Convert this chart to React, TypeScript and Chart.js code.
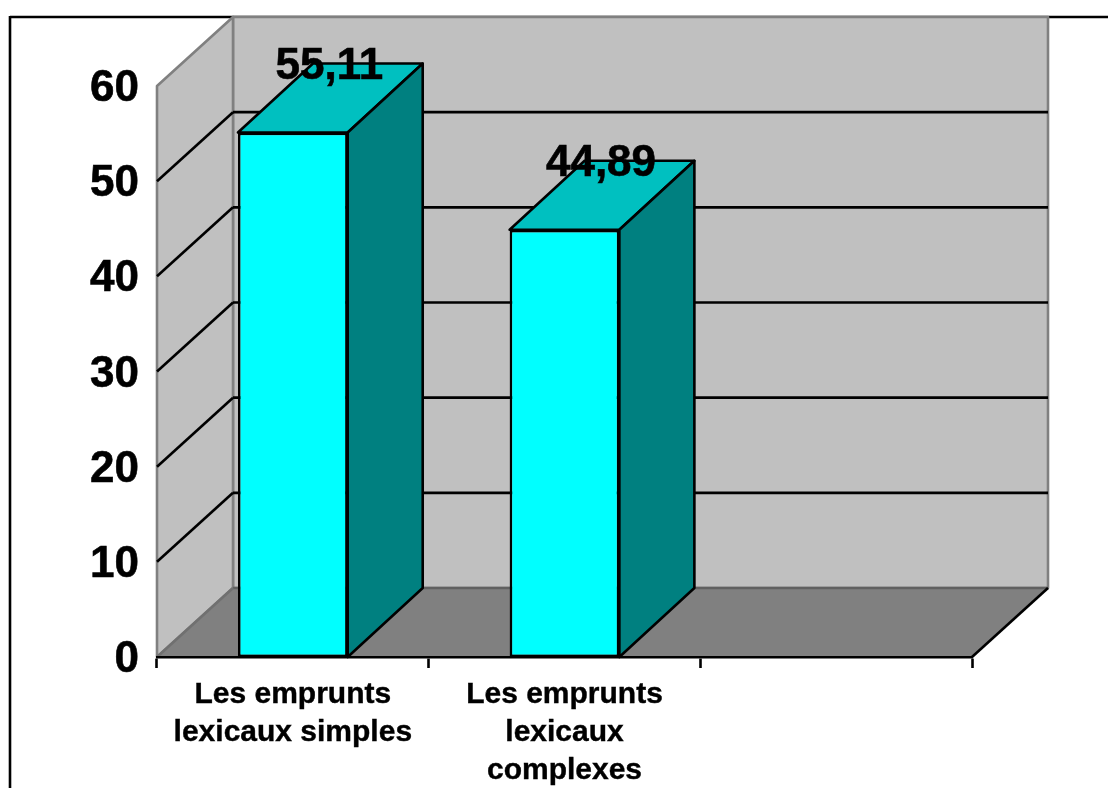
import React, { useEffect, useRef } from "react";
import { Chart, registerables } from "chart.js";

Chart.register(...registerables);

const categories: (string | string[])[] = [
  ["Les emprunts", "lexicaux simples"],
  ["Les emprunts", "lexicaux", "complexes"],
  "",
];
const shares: (number | null)[] = [55.11, 44.89, null];
const yTickStep = 10;
const yMax = 60;

const FONT = '"Liberation Sans", Arial, sans-serif';
const DEPTH_X = 76;
const DEPTH_Y = 69;
const BAR_DEPTH_X = 75;
const LINE = 2.6;

function polygon(ctx: CanvasRenderingContext2D, pts: number[][], fill: string | null, stroke: string | null, width = LINE) {
  ctx.beginPath();
  pts.forEach(([x, y], i) => (i ? ctx.lineTo(x, y) : ctx.moveTo(x, y)));
  ctx.closePath();
  if (fill) {
    ctx.fillStyle = fill;
    ctx.fill();
  }
  if (stroke) {
    ctx.strokeStyle = stroke;
    ctx.lineWidth = width;
    ctx.lineJoin = "round";
    ctx.stroke();
  }
}

function segment(ctx: CanvasRenderingContext2D, x1: number, y1: number, x2: number, y2: number, color: string, width = LINE) {
  ctx.beginPath();
  ctx.moveTo(x1, y1);
  ctx.lineTo(x2, y2);
  ctx.strokeStyle = color;
  ctx.lineWidth = width;
  ctx.stroke();
}

// Frame, the two walls, the floor and the value grid of the 3D box.
const box3d = {
  id: "box3d",
  beforeDraw(chart: any) {
    const { ctx, chartArea: a, scales } = chart;
    const dx = DEPTH_X;
    const dy = DEPTH_Y;
    ctx.save();

    segment(ctx, 10, 17, chart.width, 17, "#000");
    segment(ctx, 10, 16, 10, chart.height, "#000");

    polygon(ctx, [[a.left + dx, a.top - dy], [a.right + dx, a.top - dy], [a.right + dx, a.bottom - dy], [a.left + dx, a.bottom - dy]], "#C0C0C0", "#808080");
    polygon(ctx, [[a.left, a.top], [a.left + dx, a.top - dy], [a.left + dx, a.bottom - dy], [a.left, a.bottom]], "#C0C0C0", "#808080");
    polygon(ctx, [[a.left, a.bottom], [a.right, a.bottom], [a.right + dx, a.bottom - dy], [a.left + dx, a.bottom - dy]], "#808080", null);
    segment(ctx, a.left + dx, a.bottom - dy, a.right + dx, a.bottom - dy, "#606060");
    segment(ctx, a.left, a.bottom, a.left + dx, a.bottom - dy, "#707070");
    segment(ctx, a.right, a.bottom, a.right + dx, a.bottom - dy, "#000");

    for (const tick of scales.y.ticks) {
      if (tick.value === 0 || tick.value === yMax) continue;
      const y = scales.y.getPixelForValue(tick.value);
      segment(ctx, a.left, y, a.left + dx, y - dy, "#000");
      segment(ctx, a.left + dx, y - dy, a.right + dx, y - dy, "#000");
    }
    ctx.restore();
  },
  // Top and side faces of each column, behind the front face the library draws.
  beforeDatasetsDraw(chart: any) {
    const { ctx } = chart;
    const dx = BAR_DEPTH_X;
    const dy = DEPTH_Y;
    ctx.save();
    chart.getDatasetMeta(0).data.forEach((bar: any, i: number) => {
      if (shares[i] == null) return;
      const l = bar.x - bar.width / 2;
      const r = bar.x + bar.width / 2;
      polygon(ctx, [[l, bar.y], [l + dx, bar.y - dy], [r + dx, bar.y - dy], [r, bar.y]], "#00C0C0", "#000");
      polygon(ctx, [[r, bar.y], [r + dx, bar.y - dy], [r + dx, bar.base - dy], [r, bar.base]], "#008080", "#000");
    });
    ctx.restore();
  },
  // Value captions, written with a decimal comma above the back edge of each top face.
  afterDatasetsDraw(chart: any) {
    const { ctx } = chart;
    ctx.save();
    ctx.font = `bold 44px ${FONT}`;
    ctx.fillStyle = "#000";
    ctx.strokeStyle = "#000";
    ctx.lineWidth = 0.6;
    ctx.textAlign = "center";
    ctx.textBaseline = "middle";
    chart.getDatasetMeta(0).data.forEach((bar: any, i: number) => {
      const v = shares[i];
      if (v == null) return;
      const text = String(v).replace(".", ",");
      const x = bar.x + BAR_DEPTH_X / 2 - 1;
      const y = bar.y - DEPTH_Y + 3;
      ctx.fillText(text, x, y);
      ctx.strokeText(text, x, y);
    });
    ctx.restore();
  },
};

export default function App() {
  const ref = useRef<HTMLCanvasElement>(null);

  useEffect(() => {
    const chart = new Chart(ref.current!, {
      type: "bar",
      data: {
        labels: categories as any,
        datasets: [
          {
            data: shares,
            backgroundColor: "#00FFFF",
            borderColor: "#000",
            borderWidth: LINE,
            borderSkipped: false,
            barPercentage: 0.404,
            categoryPercentage: 1,
          },
        ],
      },
      plugins: [box3d],
      options: {
        responsive: false,
        animation: false,
        layout: { padding: { top: 86, right: 136, left: 0, bottom: 0 } },
        plugins: { legend: { display: false }, tooltip: { enabled: false } },
        scales: {
          x: {
            afterFit(scale: any) {
              scale.height = 131;
            },
            grid: {
              display: true,
              drawOnChartArea: false,
              drawTicks: true,
              tickLength: 11,
              tickWidth: LINE,
              tickColor: "#000",
            },
            border: { display: true, color: "#000", width: LINE },
            ticks: {
              autoSkip: false,
              maxRotation: 0,
              minRotation: 0,
              color: "#000",
              padding: 8,
              textStrokeColor: "#000",
              textStrokeWidth: 0.4,
              font: { family: FONT, size: 30, weight: "bold", lineHeight: 1.267 },
            },
          },
          y: {
            min: 0,
            max: yMax,
            afterFit(scale: any) {
              scale.width = 157;
            },
            grid: { display: false, drawTicks: false },
            border: { display: false },
            ticks: {
              stepSize: yTickStep,
              color: "#000",
              padding: 18,
              labelOffset: 3,
              textStrokeColor: "#000",
              textStrokeWidth: 0.6,
              font: { family: FONT, size: 44, weight: "bold" },
            },
          },
        },
      },
    } as any);
    return () => chart.destroy();
  }, []);

  return (
    <div style={{ position: "absolute", left: 0, top: 0, width: 1108, height: 788, background: "#fff", overflow: "hidden" }}>
      <canvas ref={ref} width={1108} height={788} style={{ display: "block" }} />
    </div>
  );
}
